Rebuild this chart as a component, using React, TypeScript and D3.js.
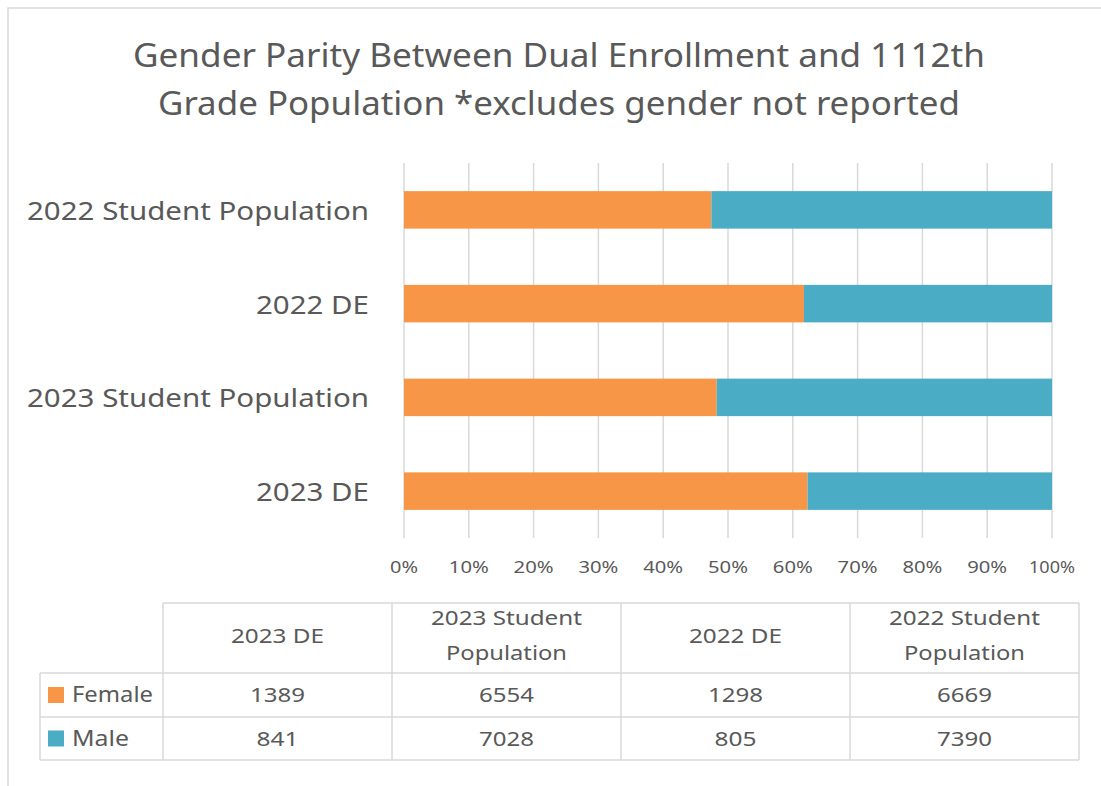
import React from "react";
import * as d3 from "d3";

// values
const categories = ["2023 DE", "2023 Student Population", "2022 DE", "2022 Student Population"];
const tableHeaders = [["2023 DE"], ["2023 Student", "Population"], ["2022 DE"], ["2022 Student", "Population"]];
const female = [1389, 6554, 1298, 6669];
const male = [841, 7028, 805, 7390];
const seriesNames = ["Female", "Male"];
const colors = ["#F79646", "#4BACC6"];
const ticks = [0, 0.1, 0.2, 0.3, 0.4, 0.5, 0.6, 0.7, 0.8, 0.9, 1];
const titleLines = ["Gender Parity Between Dual Enrollment and 1112th", "Grade Population *excludes gender not reported"];

const FONT = "'Noto Sans', 'Open Sans', sans-serif";
const TXT = "#595959";
const GRID = "#d9d9d9";

export default function App() {
  const W = 1101, H = 786;
  const x = d3.scaleLinear().domain([0, 1]).range([404, 1052]);
  // chart shows the last category on top
  const y = d3.scaleBand<string>().domain([...categories].reverse()).range([163, 538]).paddingInner(0.6).paddingOuter(0.3);

  const rows = categories.map((c, i) => {
    const tot = female[i] + male[i];
    return { c, f: female[i] / tot, m: male[i] / tot };
  });
  const stack = d3.stack<any>().keys(["f", "m"])(rows);

  // table geometry
  const colX = d3.scaleBand<string>().domain(categories).range([163, 1079]);
  const tTop = 603, hBot = 673, rowBot = [717, 760], legLeft = 40;
  const labelW: Record<string, number> = {
    "2022 Student Population": 342, "2023 Student Population": 342, "2022 DE": 113, "2023 DE": 113,
  };
  const numW = (v: number) => (String(v).length === 3 ? 42 : 55);

  return (
    <svg width={W} height={H} style={{ position: "absolute", left: 0, top: 0 }} fontFamily={FONT}>
      <rect x={0} y={0} width={W} height={H} fill="#fff" />
      <rect x={8} y={8} width={W} height={H} fill="#fff" stroke={GRID} strokeWidth={1.5} />

      {titleLines.map((t, i) => (
        <text key={i} x={559} y={67 + i * 48} textAnchor="middle" fontSize={32} fill={TXT}
          textLength={i === 0 ? 852 : 802} lengthAdjust="spacingAndGlyphs">{t}</text>
      ))}

      {ticks.map((t) => (
        <g key={t}>
          <line x1={x(t)} x2={x(t)} y1={163} y2={538} stroke={GRID} strokeWidth={1.5} />
          <text x={x(t)} y={573} textAnchor="middle" fontSize={16} fill={TXT}
            textLength={t === 1 ? 46 : t === 0 ? 28 : 40} lengthAdjust="spacingAndGlyphs">{d3.format(".0%")(t)}</text>
        </g>
      ))}

      {stack.map((s, si) => (
        <g key={si} fill={colors[si]}>
          {s.map((d: any) => (
            <rect key={d.data.c} x={x(d[0])} width={x(d[1]) - x(d[0])} y={y(d.data.c)} height={y.bandwidth()} />
          ))}
        </g>
      ))}

      {categories.map((c) => (
        <text key={c} x={369} y={(y(c) as number) + y.bandwidth() / 2 + 10} textAnchor="end" fontSize={26} fill={TXT}
          textLength={labelW[c]} lengthAdjust="spacingAndGlyphs">{c}</text>
      ))}

      {/* data table */}
      <g stroke={GRID} strokeWidth={1.5} fill="none">
        <line x1={163} x2={1079} y1={tTop} y2={tTop} />
        <line x1={legLeft} x2={1079} y1={hBot} y2={hBot} />
        {rowBot.map((yy) => <line key={yy} x1={legLeft} x2={1079} y1={yy} y2={yy} />)}
        <line x1={legLeft} x2={legLeft} y1={hBot} y2={rowBot[1]} />
        {categories.map((c) => <line key={c} x1={colX(c)} x2={colX(c)} y1={tTop} y2={rowBot[1]} />)}
        <line x1={1079} x2={1079} y1={tTop} y2={rowBot[1]} />
      </g>

      {tableHeaders.map((lines, i) => {
        const cx = (colX(categories[i]) as number) + colX.bandwidth() / 2;
        return lines.length === 1 ? (
          <text key={i} x={cx} y={643} textAnchor="middle" fontSize={20} fill={TXT}
            textLength={93} lengthAdjust="spacingAndGlyphs">{lines[0]}</text>
        ) : (
          lines.map((l, j) => (
            <text key={i + "-" + j} x={cx} y={625 + j * 35} textAnchor="middle" fontSize={20} fill={TXT}
              textLength={j === 0 ? 151 : 121} lengthAdjust="spacingAndGlyphs">{l}</text>
          ))
        );
      })}

      {[female, male].map((vals, r) => {
        const top = r === 0 ? hBot : rowBot[0];
        const mid = (top + rowBot[r]) / 2;
        return (
          <g key={r}>
            <rect x={48} y={mid - 8} width={16} height={16} fill={colors[r]} />
            <text x={72} y={mid + 7} fontSize={21} fill={TXT}
              textLength={r === 0 ? 81 : 57} lengthAdjust="spacingAndGlyphs">{seriesNames[r]}</text>
            {vals.map((v, i) => (
              <text key={i} x={(colX(categories[i]) as number) + colX.bandwidth() / 2} y={mid + 7}
                textAnchor="middle" fontSize={20} fill={TXT}
                textLength={numW(v)} lengthAdjust="spacingAndGlyphs">{v}</text>
            ))}
          </g>
        );
      })}
    </svg>
  );
}
